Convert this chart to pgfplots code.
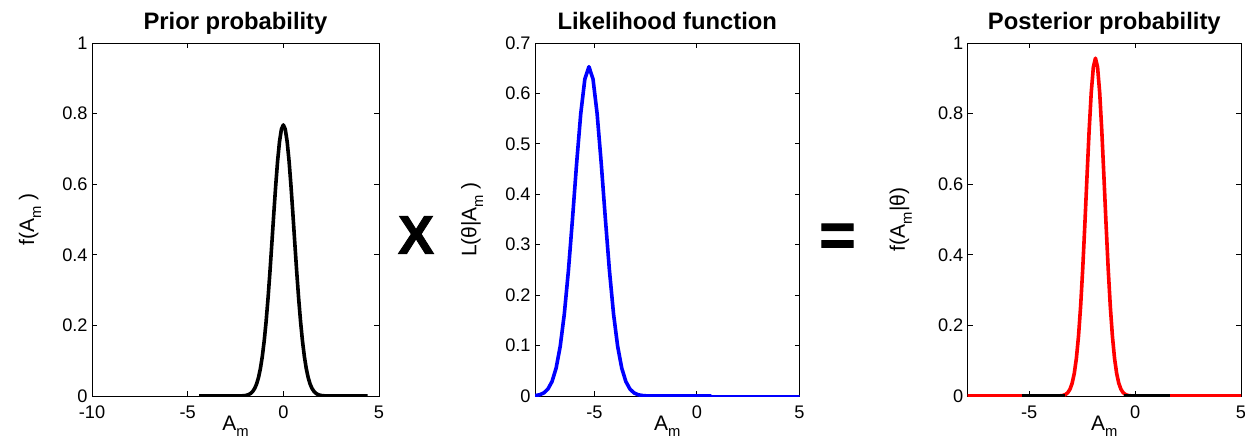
\documentclass[border=0pt]{standalone}
\usepackage{fontspec}
\setmainfont{Liberation Sans}
\newfontfamily\heavy[FakeBold=1.6]{Liberation Sans Bold}
\usepackage{pgfplots}
\pgfplotsset{compat=1.18}
\newcommand{\sub}[1]{\raisebox{-3.4pt}{\fontsize{7.4pt}{8pt}\selectfont #1}}
\pgfplotsset{
  mstyle/.style={
    scale only axis, height=176.5pt, ymin=0,
    anchor=south west,
    axis line style={line width=0.5pt},
    tick align=inside, xtick pos=both, ytick pos=both,
    major tick length=2.5pt,
    tick style={black, line width=0.5pt},
    /pgf/number format/assume math mode=true,
    ticklabel style={font=\fontsize{9.1pt}{10pt}\selectfont},
    yticklabel style={anchor=east, inner sep=0pt, xshift=-2pt},
    xticklabel style={anchor=base, inner sep=0pt, yshift=-11pt},
    every axis x label/.style={at={(axis description cs:0.5,0)}, anchor=base, yshift=-17pt, font=\fontsize{10.5pt}{12pt}\selectfont},
    every axis title/.style={at={(axis description cs:0.5,1)}, anchor=base, yshift=6.85pt, font=\bfseries\fontsize{11.9pt}{13pt}\selectfont},
    every axis plot/.append style={line width=1.8pt, line join=round},
  }
}
\begin{document}
\begin{tikzpicture}
\useasboundingbox (0,0) rectangle (622.5pt,220pt);
% ---------------- Prior
\begin{axis}[mstyle, at={(46pt,22pt)}, width=143.5pt,
  xmin=-10, xmax=5, ymax=1,
  xtick={-10,-5,0,5}, ytick={0,0.2,0.4,0.6,0.8,1},
  title={Prior probability},
  xlabel={A\sub{m}},
  every axis y label/.style={at={(axis description cs:-0.216,0.5)}, rotate=90, anchor=center, font=\fontsize{10.5pt}{12pt}\selectfont},
  ylabel={f(A\sub{m} )}]
\addplot[black] coordinates {
(-4.4,0)(-2.4,0)(-2.2,0.0003)(-2.0,0.0013)(-1.9,0.0024)(-1.8,0.0044)(-1.7,0.0077)
(-1.6,0.0130)(-1.5,0.0212)(-1.4,0.0337)(-1.3,0.0519)(-1.2,0.0773)(-1.1,0.1116)
(-1.0,0.1559)(-0.9,0.2111)(-0.8,0.2768)(-0.7,0.3516)(-0.6,0.4326)(-0.5,0.5155)
(-0.4,0.5950)(-0.3,0.6653)(-0.2,0.7206)(-0.1,0.7559)(0,0.768)
(0.1,0.7559)(0.2,0.7206)(0.3,0.6653)(0.4,0.5950)(0.5,0.5155)(0.6,0.4326)
(0.7,0.3516)(0.8,0.2768)(0.9,0.2111)(1.0,0.1559)(1.1,0.1116)(1.2,0.0773)
(1.3,0.0519)(1.4,0.0337)(1.5,0.0212)(1.6,0.0130)(1.7,0.0077)(1.8,0.0044)
(1.9,0.0024)(2.0,0.0013)(2.2,0.0003)(2.4,0)(4.4,0)};
\end{axis}
% ---------------- Likelihood
\begin{axis}[mstyle, at={(267.5pt,22pt)}, width=132.25pt,
  xmin=-7.9, xmax=5, ymax=0.7,
  xtick={-5,0,5}, ytick={0,0.1,0.2,0.3,0.4,0.5,0.6,0.7},
  title={Likelihood function},
  xlabel={A\sub{m}},
  every axis y label/.style={at={(axis description cs:-0.238,0.5)}, rotate=90, anchor=center, font=\fontsize{10.5pt}{12pt}\selectfont},
  ylabel={L(θ|A\sub{m} )}]
\addplot[blue, line width=1pt] coordinates {(0.7,0)(5,0)};
\addplot[blue] coordinates {
(-7.9,0.0008)(-7.67,0.0025)(-7.47,0.0061)(-7.27,0.0138)(-7.07,0.0287)(-6.87,0.0553)
(-6.67,0.0986)(-6.47,0.1628)(-6.27,0.2489)(-6.07,0.3522)(-5.87,0.4614)(-5.67,0.5596)
(-5.47,0.6283)(-5.27,0.653)(-5.07,0.6283)(-4.87,0.5596)(-4.67,0.4614)(-4.47,0.3522)
(-4.27,0.2489)(-4.07,0.1628)(-3.87,0.0986)(-3.67,0.0553)(-3.47,0.0287)(-3.27,0.0138)
(-3.07,0.0061)(-2.87,0.0025)(-2.67,0.0010)(-2.47,0.0003)(-2.27,0)(0.7,0)};
\end{axis}
% ---------------- Posterior
\begin{axis}[mstyle, at={(483.85pt,22pt)}, width=136.65pt,
  xmin=-7.9, xmax=5, ymax=1,
  xtick={-5,0,5}, ytick={0,0.2,0.4,0.6,0.8,1},
  title={Posterior probability},
  xlabel={A\sub{m}},
  every axis y label/.style={at={(axis description cs:-0.245,0.5)}, rotate=90, anchor=center, font=\fontsize{10.5pt}{12pt}\selectfont},
  ylabel={f(A\sub{m}|θ)}]
\addplot[red] coordinates {
(-7.9,0)(-3.67,0)(-3.47,0.0009)(-3.37,0.0022)(-3.27,0.0048)(-3.17,0.0099)(-3.07,0.0195)
(-2.97,0.0363)(-2.87,0.0641)(-2.77,0.1071)(-2.67,0.1696)(-2.57,0.2544)(-2.47,0.3616)
(-2.37,0.4868)(-2.27,0.6209)(-2.17,0.7503)(-2.07,0.8589)(-1.97,0.9315)(-1.87,0.957)
(-1.77,0.9315)(-1.67,0.8589)(-1.57,0.7503)(-1.47,0.6209)(-1.37,0.4868)(-1.27,0.3616)
(-1.17,0.2544)(-1.07,0.1696)(-0.97,0.1071)(-0.87,0.0641)(-0.77,0.0363)(-0.67,0.0195)
(-0.57,0.0099)(-0.47,0.0048)(-0.37,0.0022)(-0.27,0.0009)(-0.07,0)(5,0)};
\addplot[black] coordinates {(-5.35,0)(-3.3,0)};
\addplot[black] coordinates {(-0.5,0)(1.65,0)};
\end{axis}
\node[font=\heavy\fontsize{27pt}{30pt}\selectfont, inner sep=0pt] at (208pt,102.5pt) {X};
\node[font=\heavy\fontsize{31pt}{33pt}\selectfont, inner sep=0pt] at (418.75pt,100pt) {=};
\end{tikzpicture}
\end{document}
